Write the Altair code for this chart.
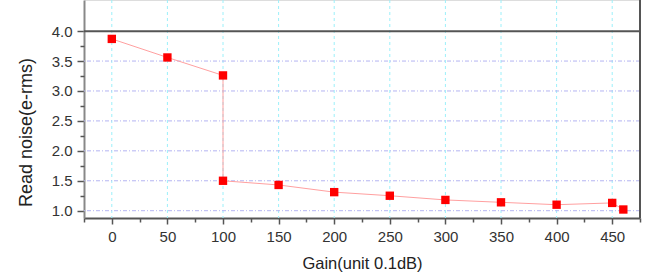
import altair as alt
import pandas as pd

gain = [0, 50, 100, 100, 150, 200, 250, 300, 350, 400, 450, 460]
noise = [3.87, 3.56, 3.26, 1.50, 1.43, 1.31, 1.25, 1.18, 1.14, 1.10, 1.13, 1.02]
order = list(range(len(gain)))

x_major = [0, 50, 100, 150, 200, 250, 300, 350, 400, 450]
x_minor = [-25, 25, 75, 125, 175, 225, 275, 325, 375, 425, 475]
y_major = [1.0, 1.5, 2.0, 2.5, 3.0, 3.5, 4.0]
y_minor = [1.25, 1.75, 2.25, 2.75, 3.25, 3.75]
y_grid = [1.0, 1.5, 2.0, 2.5, 3.0, 3.5]

df = pd.DataFrame({"gain": gain, "noise": noise, "order": order})

X_DOM = [-25, 475]
Y_DOM = [0.878, 4.52]
FONT = "Liberation Sans"

xs = alt.Scale(domain=X_DOM, nice=False, zero=False)
ys = alt.Scale(domain=Y_DOM, nice=False, zero=False)

base = alt.Chart(df)

# x grid (cyan dashed)
xgrid = alt.Chart(pd.DataFrame({"g": x_major})).mark_rule(
    color="#9cf0fa", strokeDash=[3, 3], strokeWidth=1
).encode(x=alt.X("g:Q", scale=xs, axis=None))

# y grid (blue dash-dot)
ygrid = alt.Chart(pd.DataFrame({"g": y_grid})).mark_rule(
    color="#b4b4f2", strokeDash=[4, 2, 1, 2], strokeWidth=1
).encode(y=alt.Y("g:Q", scale=ys, axis=None))

# top dark line at 4.0
top = alt.Chart(pd.DataFrame({"g": [4.0]})).mark_rule(
    color="#555555", strokeWidth=2
).encode(y=alt.Y("g:Q", scale=ys, axis=None))

line = base.mark_line(color="#ffa0a0", strokeWidth=1).encode(
    x=alt.X("gain:Q", scale=xs,
            axis=alt.Axis(values=x_major, title="Gain(unit 0.1dB)", grid=False,
                          domainColor="#555555", domainWidth=2, tickColor="#555555",
                          tickWidth=1.5, tickSize=6, labelFontSize=15, labelFont=FONT,
                          labelColor="#333333", labelPadding=5, titleFont=FONT,
                          titleFontSize=16.5, titleFontWeight="normal", titleColor="#222222",
                          titlePadding=11)),
    y=alt.Y("noise:Q", scale=ys,
            axis=alt.Axis(values=y_major, format=".1f", title="Read noise(e-rms)", grid=False,
                          domainColor="#888888", domainWidth=2, tickColor="#555555",
                          tickWidth=1.5, tickSize=7, labelFontSize=15, labelFont=FONT,
                          labelColor="#333333", labelPadding=5, titleFont=FONT,
                          titleFontSize=18, titleFontWeight="normal", titleColor="#222222",
                          titleX=-49, titleY=132)),
    order="order:Q",
)

pts = base.mark_square(color="#ff0000", size=70, opacity=1).encode(
    x=alt.X("gain:Q", scale=xs, axis=None),
    y=alt.Y("noise:Q", scale=ys, axis=None),
)

# minor tick axes
xminor = alt.Chart(pd.DataFrame({"g": x_minor})).mark_point(opacity=0).encode(
    x=alt.X("g:Q", scale=xs,
            axis=alt.Axis(values=x_minor, labels=False, title=None, domain=False, grid=False,
                          tickColor="#555555", tickWidth=1.5, tickSize=4, orient="bottom"))
)
yminor = alt.Chart(pd.DataFrame({"g": y_minor})).mark_point(opacity=0).encode(
    y=alt.Y("g:Q", scale=ys,
            axis=alt.Axis(values=y_minor, labels=False, title=None, domain=False, grid=False,
                          tickColor="#555555", tickWidth=1.5, tickSize=4, orient="left"))
)

right = alt.Chart(pd.DataFrame({"a": [0]})).mark_rule(color="#555555", strokeWidth=2).encode(
    x=alt.value(556), y=alt.value(0), y2=alt.value(218)
)

chart = alt.layer(xgrid, ygrid, line, pts, top, right, xminor, yminor).resolve_axis(
    x="independent", y="independent"
).properties(
    width=556, height=218,
    padding={"left": 84, "top": 0, "right": 31, "bottom": 60},
    autosize=alt.AutoSizeParams(type="none"),
).configure_view(stroke=None).configure(background="white")

chart.save("out.html", embed_options={"renderer": "svg", "actions": False})
